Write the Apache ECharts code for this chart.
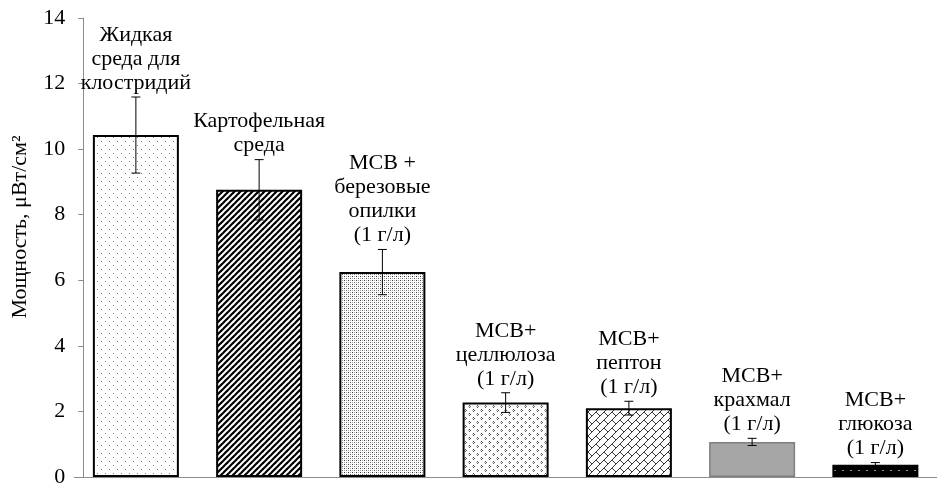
<!DOCTYPE html>
<html><head><meta charset="utf-8">
<script src="https://cdn.jsdelivr.net/npm/echarts@6/dist/echarts.min.js"></script>
<style>html,body{margin:0;padding:0;background:#fff}#c{width:937px;height:488px}</style>
</head><body><div id="c"></div>
<script>
const categories = [
  "Жидкая\nсреда для\nклостридий",
  "Картофельная\nсреда",
  "МСВ +\nберезовые\nопилки\n(1 г/л)",
  "МСВ+\nцеллюлоза\n(1 г/л)",
  "МСВ+\nпептон\n(1 г/л)",
  "МСВ+\nкрахмал\n(1 г/л)",
  "МСВ+\nглюкоза\n(1 г/л)"
];
const values = [10.43, 8.76, 6.25, 2.27, 2.10, 1.07, 0.37];
const errors = [1.16, 0.92, 0.69, 0.30, 0.21, 0.11, 0.07];
const yTicks = [0, 2, 4, 6, 8, 10, 12, 14];
const yName = "Мощность, μВт/см²";

const FONT = '"Liberation Serif", "Times New Roman", serif';

function pat(w, h, bg, draw) {
  const c = document.createElement('canvas');
  c.width = w; c.height = h;
  const g = c.getContext('2d');
  g.fillStyle = bg; g.fillRect(0, 0, w, h);
  draw(g);
  return { image: c, repeat: 'repeat' };
}
function px(g, col, pts) { g.fillStyle = col; pts.forEach(p => g.fillRect(p[0], p[1], 1, 1)); }

const fills = [
  pat(8, 8, '#fff', g => px(g, '#777', [[1,1],[5,5]])),
  pat(6, 6, '#fff', g => {
    g.strokeStyle = '#000'; g.lineWidth = 2.2;
    [[-6,0],[0,0],[6,0]].forEach(o => { g.beginPath(); g.moveTo(o[0]-1, 7); g.lineTo(o[0]+7, -1); g.stroke(); });
  }),
  pat(4, 4, '#fff', g => { px(g, '#333', [[0,0]]); px(g, '#666', [[2,2]]); px(g, '#aaa', [[2,0],[0,2]]); }),
  pat(8, 8, '#fff', g => { px(g, '#555', [[1,1],[2,2],[1,3],[5,5],[6,6],[5,7]]); px(g, '#aaa', [[0,2],[4,6]]); }),
  pat(8, 8, '#fff', g => {
    g.strokeStyle = '#333'; g.lineWidth = 1;
    [[-8],[0],[8]].forEach(o => { g.beginPath(); g.moveTo(o[0]-1, 9); g.lineTo(o[0]+9, -1); g.stroke(); });
    g.beginPath(); g.moveTo(4, 4); g.lineTo(8, 8); g.stroke();
    g.beginPath(); g.moveTo(-4, -4); g.lineTo(0, 0); g.stroke();
  }),
  '#a6a6a6',
  pat(8, 6, '#000', g => px(g, '#9a9a9a', [[2,2],[3,2]]))
];
const borders = [
  ['#000', 2], ['#000', 2], ['#000', 2], ['#000', 2], ['#000', 2], ['#7f7f7f', 1.5], ['#000', 2]
];

const barData = values.map((v, i) => ({
  value: v,
  itemStyle: { color: fills[i], borderColor: borders[i][0], borderWidth: borders[i][1] }
}));
const errData = values.map((v, i) => [i, v, errors[i]]);

const chart = echarts.init(document.getElementById('c'), null, { renderer: 'canvas' });
chart.setOption({
  animation: false,
  backgroundColor: '#fff',
  grid: { left: 74.25, right: -15.75, top: 18, bottom: 6, containLabel: false },
  xAxis: {
    type: 'category',
    data: categories,
    axisLine: { lineStyle: { color: '#8c8c8c', width: 1 } },
    axisTick: { show: false },
    axisLabel: { show: false }
  },
  yAxis: {
    type: 'value',
    min: 0, max: 14, interval: 2,
    offset: -9,
    axisLine: { show: true, lineStyle: { color: '#8c8c8c', width: 1 } },
    axisTick: { show: true, length: 5, lineStyle: { color: '#8c8c8c' } },
    splitLine: { show: false },
    axisLabel: {
      margin: 18, color: '#000', fontFamily: FONT, fontSize: 22,
      formatter: v => yTicks.includes(v) ? String(v) : ''
    }
  },
  graphic: [{
    type: 'text', x: 20, y: 227, rotation: Math.PI / 2,
    style: { text: yName, align: 'center', verticalAlign: 'middle', font: '22px ' + FONT, fill: '#000' }
  }],
  series: [
    {
      type: 'bar', data: barData, barWidth: 86, silent: true
    },
    {
      type: 'custom', data: errData, silent: true, z: 10,
      renderItem: (params, api) => {
        const i = api.value(0), v = api.value(1), e = api.value(2);
        const top = api.coord([i, v + e]);
        const bot = api.coord([i, v - e]);
        const cx = top[0];
        const cap = 4.5;
        return {
          type: 'group',
          children: [
            { type: 'line', shape: { x1: cx, y1: top[1], x2: cx, y2: bot[1] }, style: { stroke: '#000', lineWidth: 1 } },
            { type: 'line', shape: { x1: cx - cap, y1: top[1], x2: cx + cap, y2: top[1] }, style: { stroke: '#000', lineWidth: 1 } },
            { type: 'line', shape: { x1: cx - cap, y1: bot[1], x2: cx + cap, y2: bot[1] }, style: { stroke: '#000', lineWidth: 1 } },
            { type: 'text', x: cx, y: top[1] - 2,
              style: { text: categories[i], align: 'center', verticalAlign: 'bottom', font: '22px ' + FONT, lineHeight: 24, fill: '#000' } }
          ]
        };
      }
    }
  ]
});
</script></body></html>
